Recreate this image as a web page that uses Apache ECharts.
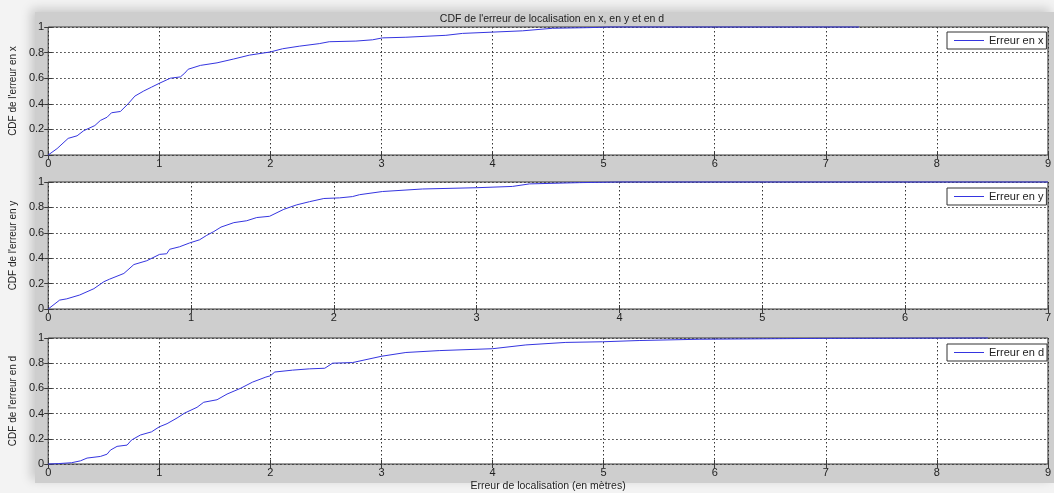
<!DOCTYPE html>
<html>
<head>
<meta charset="utf-8">
<script src="https://cdn.jsdelivr.net/npm/echarts@6/dist/echarts.min.js"></script>
<style>
  html, body { margin: 0; padding: 0; width: 1054px; height: 493px; overflow: hidden; background: #f3f3f3; }
  #figure { position: absolute; left: 35px; top: 12px; width: 1019px; height: 471px; background: #cecece;
            box-shadow: -4px -3px 10px rgba(0,0,0,0.18); }
  #chart { position: absolute; left: 0; top: 0; width: 1054px; height: 493px; }
</style>
</head>
<body>
<div id="figure"></div>
<div id="chart"></div>
<script>
// Localisation error (m) and its empirical CDF, one pair of arrays per component
const errX = [0, 0.08, 0.18, 0.26, 0.32, 0.42, 0.47, 0.53, 0.57, 0.65, 0.72, 0.78, 0.86, 0.93, 1.00, 1.10, 1.19, 1.23, 1.26, 1.37, 1.52, 1.67, 1.81, 2.00, 2.11, 2.26, 2.44, 2.53, 2.77, 2.92, 3.01, 3.22, 3.58, 3.73, 4.00, 4.27, 4.54, 4.87, 5.05, 7.30];
const cdfX = [0, 0.05, 0.13, 0.15, 0.19, 0.23, 0.27, 0.295, 0.33, 0.34, 0.40, 0.46, 0.50, 0.53, 0.56, 0.60, 0.61, 0.64, 0.67, 0.70, 0.72, 0.75, 0.78, 0.805, 0.83, 0.85, 0.87, 0.885, 0.89, 0.90, 0.915, 0.92, 0.935, 0.95, 0.96, 0.97, 0.99, 0.995, 1, 1];

const errY = [0, 0.08, 0.13, 0.22, 0.32, 0.39, 0.43, 0.53, 0.60, 0.69, 0.78, 0.83, 0.85, 0.92, 0.99, 1.06, 1.11, 1.16, 1.21, 1.30, 1.39, 1.46, 1.55, 1.65, 1.74, 1.83, 1.93, 2.04, 2.13, 2.18, 2.34, 2.62, 3.00, 3.25, 3.37, 3.72, 4.00, 7.00];
const cdfY = [0, 0.07, 0.08, 0.11, 0.16, 0.215, 0.235, 0.28, 0.35, 0.38, 0.43, 0.435, 0.47, 0.49, 0.52, 0.545, 0.58, 0.61, 0.645, 0.68, 0.695, 0.72, 0.73, 0.785, 0.82, 0.845, 0.87, 0.875, 0.885, 0.90, 0.925, 0.945, 0.955, 0.965, 0.985, 0.995, 1, 1];

const errD = [0, 0.09, 0.21, 0.29, 0.35, 0.47, 0.53, 0.56, 0.62, 0.71, 0.75, 0.83, 0.93, 1.00, 1.07, 1.16, 1.23, 1.34, 1.40, 1.52, 1.61, 1.73, 1.84, 1.96, 2.00, 2.04, 2.20, 2.35, 2.49, 2.56, 2.74, 3.00, 3.22, 3.52, 4.00, 4.30, 4.66, 4.99, 5.32, 5.86, 6.96, 8.46];
const cdfD = [0, 0.003, 0.01, 0.025, 0.047, 0.06, 0.078, 0.11, 0.14, 0.15, 0.19, 0.23, 0.255, 0.295, 0.32, 0.365, 0.405, 0.45, 0.49, 0.51, 0.555, 0.60, 0.65, 0.69, 0.70, 0.73, 0.745, 0.755, 0.76, 0.80, 0.805, 0.855, 0.885, 0.90, 0.915, 0.945, 0.965, 0.97, 0.98, 0.99, 0.997, 1];

const xMax = [9, 7, 9];
const names = ['Erreur en x', 'Erreur en y', 'Erreur en d'];
const yNames = ["CDF de l'erreur en x", "CDF de l'erreur en y", "CDF de l'erreur en d"];
const titleText = "CDF de l'erreur de localisation en x, en y et en d";
const xLabel = 'Erreur de localisation (en mètres)';

const FONT = "'Liberation Sans', Arial, sans-serif";
const lineColor = '#3535e0';
const ink = '#222';

const gridTops = [27, 182, 338];
const gridHeights = [128, 127, 128];
const legendTops = [32, 188, 344];

const pairs = (xs, ys) => xs.map((v, i) => [v, ys[i]]);
const dataSets = [pairs(errX, cdfX), pairs(errY, cdfY), pairs(errD, cdfD)];

const dotted = { type: [1.5, 2.5], color: '#333', width: 1 };
const tick = { show: true, inside: true, length: 4, lineStyle: { color: '#3a3a3a' } };

const grid = [], xAxis = [], yAxis = [], series = [], legend = [];
for (let i = 0; i < 3; i++) {
  grid.push({
    left: 48, right: 5, top: gridTops[i], height: gridHeights[i],
    show: true, backgroundColor: '#ffffff', borderColor: '#3a3a3a', borderWidth: 1
  });
  // bottom axis with labels
  xAxis.push({
    type: 'value', gridIndex: i, min: 0, max: xMax[i], interval: 1, position: 'bottom',
    axisLine: { show: false }, axisTick: tick,
    axisLabel: { color: ink, fontSize: 11, fontFamily: FONT, margin: 3 },
    splitLine: { show: true, lineStyle: dotted },
    name: i === 2 ? xLabel : '', nameLocation: 'middle', nameGap: 17,
    nameTextStyle: { color: ink, fontSize: 10.5, fontFamily: FONT }
  });
  // top axis: ticks only
  xAxis.push({
    type: 'value', gridIndex: i, min: 0, max: xMax[i], interval: 1, position: 'top',
    axisLine: { show: false }, axisTick: tick,
    axisLabel: { show: false }, splitLine: { show: false }
  });
  yAxis.push({
    type: 'value', gridIndex: i, min: 0, max: 1, interval: 0.2, position: 'left',
    axisLine: { show: false }, axisTick: tick,
    axisLabel: { color: ink, fontSize: 11, fontFamily: FONT, margin: 4,
                 formatter: v => (v === 0 || v === 1) ? String(v) : v.toFixed(1) },
    splitLine: { show: true, lineStyle: dotted },
    name: yNames[i], nameLocation: 'middle', nameGap: 29, nameRotate: 90,
    nameTextStyle: { color: ink, fontSize: 10, fontFamily: FONT }
  });
  // right axis: ticks only
  yAxis.push({
    type: 'value', gridIndex: i, min: 0, max: 1, interval: 0.2, position: 'right',
    axisLine: { show: false }, axisTick: tick,
    axisLabel: { show: false }, splitLine: { show: false }
  });
  series.push({
    name: names[i], type: 'line', xAxisIndex: i * 2, yAxisIndex: i * 2,
    data: dataSets[i], showSymbol: false, symbol: 'none', clip: false,
    lineStyle: { color: lineColor, width: 1 }, itemStyle: { color: lineColor },
    z: 5, animation: false
  });
  legend.push({
    data: [{ name: names[i], itemStyle: { color: lineColor } }],
    left: 947, top: legendTops[i],
    backgroundColor: '#ffffff', borderColor: '#333', borderWidth: 1,
    padding: [3, 3, 3, 7], itemWidth: 30, itemHeight: 1, itemGap: 4,
    icon: 'rect', selectedMode: false,
    textStyle: { color: ink, fontSize: 11, fontFamily: FONT }
  });
}

const chart = echarts.init(document.getElementById('chart'), null, { renderer: 'canvas' });
chart.setOption({
  backgroundColor: 'transparent',
  animation: false,
  title: {
    text: titleText, left: 547, top: 9, textAlign: 'center',
    textStyle: { color: ink, fontSize: 10.5, fontWeight: 'normal', fontFamily: FONT }
  },
  grid, xAxis, yAxis, series, legend
});
</script>
</body>
</html>
